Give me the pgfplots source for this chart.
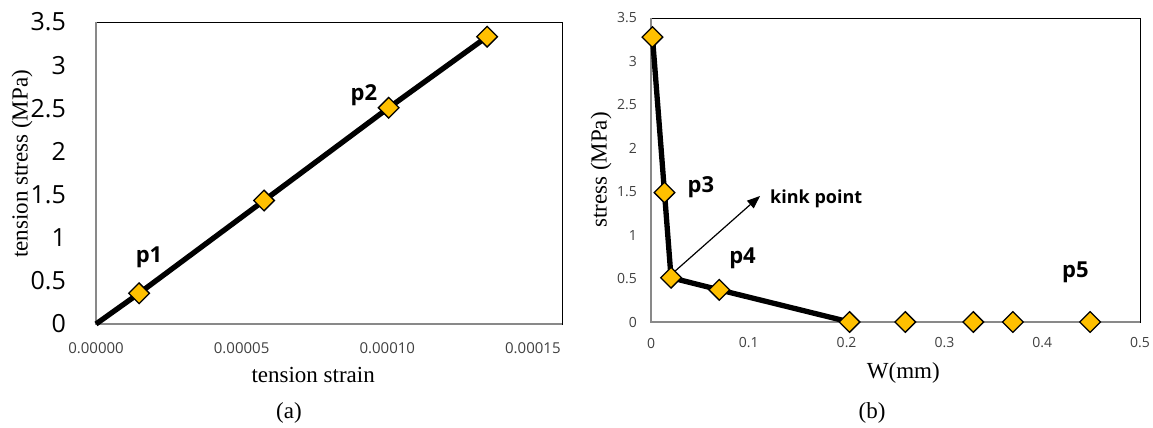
\documentclass[border=0pt]{standalone}
\usepackage{pgfplots}
\pgfplotsset{compat=1.18}
\usetikzlibrary{arrows.meta}
\usepackage{fontspec}
\setmainfont{Liberation Serif}
\newfontfamily\tickfont{Open Sans}
\definecolor{mkfill}{HTML}{FFC000}
\definecolor{axgray}{HTML}{898989}
\definecolor{ticktext}{HTML}{404040}

\begin{document}
\begin{tikzpicture}
\useasboundingbox (0,0) rectangle (1153pt,428pt);
\pgfplotsset{
 mystyle/.style={
  scale only axis, anchor=south west, clip=false,
  axis line style={black, line width=0.9pt},
  major tick length=0pt,
  ymin=0, ymax=3.5, ytick={0,0.5,1,1.5,2,2.5,3,3.5},
  /pgf/number format/assume math mode=true,
  tick label style={inner sep=0pt},
  label style={font=\fontsize{23}{26}\selectfont},
 },
 diam/.style={only marks, mark=square*, mark size=7.3pt,
   mark options={rotate=45, fill=mkfill, draw=black, line width=1.3pt, solid}},
}
\tikzset{plab/.style={font=\tickfont\bfseries\fontsize{22}{26}\selectfont}}

% ---------------- (a) ----------------
\begin{axis}[mystyle, at={(96pt,104pt)}, width=466pt, height=302pt,
 xmin=0, xmax=0.00016, xtick={0,0.00005,0.0001,0.00015}, scaled x ticks=false,
 xticklabel style={font=\tickfont\fontsize{15}{18}\selectfont, color=ticktext, anchor=center, yshift=-24pt,
   /pgf/number format/.cd, fixed, fixed zerofill, precision=5},
 yticklabel style={font=\tickfont\fontsize{25}{30}\selectfont, anchor=east, xshift=-30pt},
 xlabel={tension strain}, ylabel={tension stress (MPa)},
 xlabel style={at={([yshift=-51pt]axis description cs:0.466,0)}, anchor=center},
 ylabel style={at={([xshift=-74pt]axis description cs:0,0.53)}, anchor=center},
]
\draw[axgray, line width=1.6pt] (rel axis cs:0,1) -- (rel axis cs:0,0) -- (rel axis cs:1,0);
\addplot[black, line width=5.3pt, line join=round] coordinates {
 (0,0) (1.48e-5,0.356) (5.77e-5,1.431) (1.005e-4,2.506) (1.343e-4,3.33)};
\addplot[diam] coordinates {
 (1.48e-5,0.356) (5.77e-5,1.431) (1.005e-4,2.506) (1.343e-4,3.33)};
\node[plab] at (axis cs:1.82e-5,0.776) {p1};
\node[plab] at (axis cs:9.2e-5,2.654) {p2};
\end{axis}

% ---------------- (b) ----------------
\begin{axis}[mystyle, at={(651pt,106pt)}, width=489pt, height=304pt,
 xmin=0, xmax=0.5, xtick={0,0.1,0.2,0.3,0.4,0.5},
 xticklabel style={font=\tickfont\fontsize{14}{17}\selectfont, color=ticktext, anchor=center, yshift=-21pt},
 yticklabel style={font=\tickfont\fontsize{14}{17}\selectfont, color=ticktext, anchor=east, xshift=-14pt},
 xlabel={W(mm)}, ylabel={stress (MPa)},
 xlabel style={at={([yshift=-51pt]axis description cs:0.516,0)}, anchor=center},
 ylabel style={at={([xshift=-50pt]axis description cs:0,0.5)}, anchor=center},
]
\draw[axgray, line width=1.6pt] (rel axis cs:0,1) -- (rel axis cs:0,0) -- (rel axis cs:1,0);
\addplot[black, line width=5.3pt, line join=round] coordinates {
 (0.0015,3.28) (0.0138,1.49) (0.0205,0.51) (0.0698,0.37) (0.203,0)};
\addplot[diam] coordinates {
 (0.0015,3.28) (0.0138,1.49) (0.0205,0.51) (0.0698,0.37) (0.203,0)
 (0.260,0) (0.3295,0) (0.370,0) (0.449,0)};
\draw[-{Triangle[length=13pt,width=10pt]}, line width=1.2pt] (axis cs:0.021,0.55) -- (axis cs:0.1115,1.451);
\node[plab] at (axis cs:0.0511,1.554) {p3};
\node[plab] at (axis cs:0.0936,0.737) {p4};
\node[plab] at (axis cs:0.434,0.576) {p5};
\node[font=\tickfont\bfseries\fontsize{18}{21}\selectfont, anchor=west, inner sep=0pt] at (axis cs:0.1217,1.416) {kink point};
\end{axis}

\node[font=\fontsize{23}{26}\selectfont] at (289pt,15pt) {(a)};
\node[font=\fontsize{23}{26}\selectfont] at (872pt,15pt) {(b)};
\end{tikzpicture}
\end{document}
